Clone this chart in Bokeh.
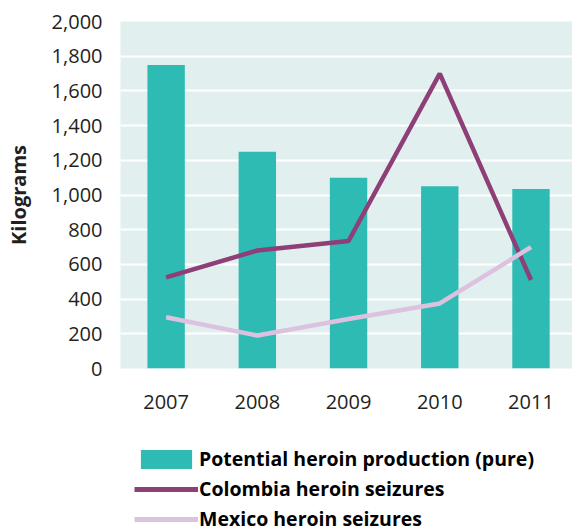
from bokeh.plotting import figure
from bokeh.layouts import column
from bokeh.models import (Range1d, FixedTicker, NumeralTickFormatter, Legend, LegendItem,
                          ColumnDataSource)
from bokeh.embed import file_html
from bokeh.resources import INLINE

years = [2007, 2008, 2009, 2010, 2011]
production = [1750, 1250, 1100, 1050, 1035]
colombia = [525, 680, 735, 1700, 510]
mexico = [295, 190, 285, 375, 700]
y_ticks = [0, 200, 400, 600, 800, 1000, 1200, 1400, 1600, 1800, 2000]
series_labels = ["Potential heroin production (pure)", "Colombia heroin seizures",
                 "Mexico heroin seizures"]

TEAL = "#2DBBB4"
PURPLE = "#8E3F78"
PINK = "#DDC2DF"
BG = "#E1F0EF"
TXT = "#231F20"
FONT = "Open Sans"

src = ColumnDataSource(dict(year=years, prod=production, col=colombia, mex=mexico))

p = figure(frame_width=452, frame_height=347, output_backend="svg", toolbar_location=None,
           x_range=Range1d(2006.5, 2011.455), y_range=Range1d(0, 2000),
           min_border_left=120, min_border_right=0, min_border_top=21, min_border_bottom=66,
           background_fill_color=BG, border_fill_color="white", outline_line_color=None)

bars = p.vbar(x="year", top="prod", width=0.41, bottom=0, source=src,
              fill_color=TEAL, line_color=None)
l1 = p.line(x="year", y="col", source=src, line_color=PURPLE, line_width=4.5)
l2 = p.line(x="year", y="mex", source=src, line_color=PINK, line_width=4.5)

p.xgrid.grid_line_color = None
p.ygrid.grid_line_color = "white"
p.ygrid.grid_line_width = 2
p.ygrid.ticker = FixedTicker(ticks=y_ticks)

p.yaxis.ticker = FixedTicker(ticks=y_ticks)
p.yaxis.formatter = NumeralTickFormatter(format="0,0")
p.xaxis.ticker = FixedTicker(ticks=years)
for ax in (p.xaxis, p.yaxis):
    ax.axis_line_color = None
    ax.major_tick_line_color = None
    ax.minor_tick_line_color = None
    ax.major_tick_out = 0
    ax.major_tick_in = 0
    ax.major_label_text_font = FONT
    ax.major_label_text_font_size = "20px"
    ax.major_label_text_color = TXT

p.yaxis.major_label_standoff = 18
p.yaxis.axis_label = "Kilograms"
p.yaxis.axis_label_text_font = FONT
p.yaxis.axis_label_text_font_size = "20px"
p.yaxis.axis_label_text_font_style = "bold"
p.yaxis.axis_label_text_color = TXT
p.yaxis.axis_label_standoff = 17

p.xaxis.major_label_standoff = 26

# legend strip below the chart (same data, drawn outside its view; only legend shows)
lg = figure(width=572, height=98, output_backend="svg", toolbar_location=None,
            x_range=Range1d(0, 1), y_range=Range1d(0, 1),
            x_axis_type=None, y_axis_type=None,
            min_border_left=0, min_border_right=0, min_border_top=0, min_border_bottom=0,
            background_fill_color="white", border_fill_color="white", outline_line_color=None)
lg.xgrid.grid_line_color = None
lg.ygrid.grid_line_color = None
d_bar = lg.vbar(x="year", top="prod", width=0.41, source=src, fill_color=TEAL, line_color=None)
d_col = lg.line(x="year", y="col", source=src, line_color=PURPLE, line_width=5)
d_mex = lg.line(x="year", y="mex", source=src, line_color=PINK, line_width=5)

legend = Legend(items=[
    LegendItem(label=series_labels[0], renderers=[d_bar]),
    LegendItem(label=series_labels[1], renderers=[d_col]),
    LegendItem(label=series_labels[2], renderers=[d_mex]),
], location=(14, 0), orientation="vertical", margin=0, padding=0,
    glyph_width=64, glyph_height=24, label_height=24, spacing=3, label_standoff=1,
    label_text_font=FONT, label_text_font_size="19.5px", label_text_font_style="bold",
    label_text_color="black", border_line_color=None, background_fill_alpha=0)
lg.add_layout(legend, "center")

layout = column(p, lg, spacing=0)
open("out.html", "w").write(file_html(layout, INLINE))
